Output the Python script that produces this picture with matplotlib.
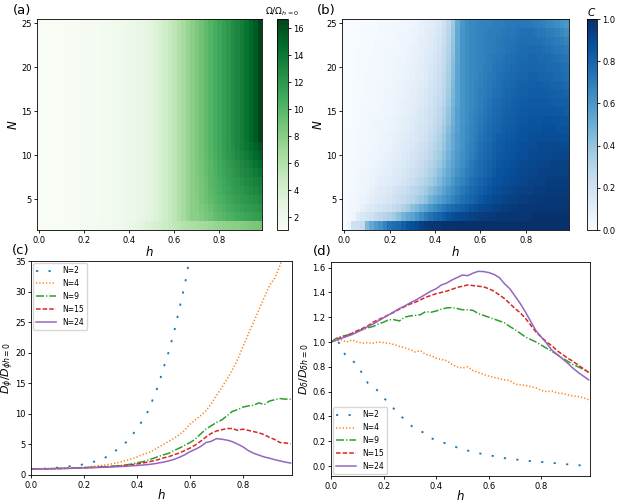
import numpy as np
import matplotlib
matplotlib.use("Agg")
import matplotlib.pyplot as plt

# ---------------- data ----------------
h = [round(0.02 * j, 2) for j in range(50)]
N_rows = list(range(2, 26))

# Panel (a): Omega / Omega_{h=0}, rows N=2..25, columns h
omega_top = [1.0, 1.0, 1.02, 1.04, 1.06, 1.1, 1.13, 1.17, 1.2, 1.25,
             1.3, 1.35, 1.4, 1.45, 1.5, 1.6, 1.7, 1.8, 1.9, 2.0,
             2.1, 2.3, 2.5, 2.7, 2.9, 3.2, 3.6, 4.0, 4.5, 5.0,
             5.5, 6.1, 6.7, 7.3, 7.9, 8.5, 9.0, 9.6, 10.1, 10.6,
             11.1, 11.6, 12.1, 12.7, 13.2, 13.7, 14.3, 14.9, 15.6, 16.7]
omega_left = omega_top[:35]
omega_N2 = [1.0, 1.0, 1.02, 1.04, 1.07, 1.1, 1.14, 1.18, 1.22, 1.27,
            1.32, 1.38, 1.44, 1.5, 1.58, 1.65, 1.75, 1.85, 1.95, 2.1,
            2.4, 2.6, 2.9, 3.2, 3.5, 3.8, 4.1, 4.4, 4.7, 5.0,
            5.3, 5.6, 5.9, 6.1, 6.3, 6.5, 6.7, 6.9, 7.1, 7.3,
            7.5, 7.6, 7.8, 7.9, 8.0, 8.2, 8.3, 8.5, 8.6, 8.8]
omega_N3 = omega_left + [7.9, 8.3, 8.7, 9.0, 9.4, 9.7, 10.0, 10.3, 10.5, 10.8, 11.0, 11.2, 11.4, 11.6, 11.8]
omega_N4 = omega_left + [8.1, 8.5, 8.9, 9.3, 9.7, 10.0, 10.4, 10.7, 11.0, 11.2, 11.5, 11.7, 11.9, 12.1, 12.3]
omega_N5 = omega_left + [8.2, 8.7, 9.1, 9.5, 9.9, 10.3, 10.6, 11.0, 11.3, 11.6, 11.9, 12.1, 12.4, 12.6, 12.8]
omega_N6 = omega_left + [8.3, 8.8, 9.2, 9.7, 10.1, 10.5, 10.9, 11.2, 11.6, 11.9, 12.2, 12.5, 12.8, 13.0, 13.3]
omega_N7 = omega_left + [8.3, 8.8, 9.3, 9.8, 10.2, 10.6, 11.0, 11.4, 11.8, 12.1, 12.5, 12.8, 13.1, 13.4, 13.7]
omega_N8 = omega_left + [8.4, 8.9, 9.4, 9.9, 10.3, 10.8, 11.2, 11.6, 12.0, 12.4, 12.8, 13.1, 13.5, 13.8, 14.2]
omega_N9 = omega_left + [8.4, 8.9, 9.4, 9.9, 10.4, 10.9, 11.3, 11.8, 12.2, 12.6, 13.0, 13.4, 13.8, 14.2, 14.7]
omega_N10 = omega_left + [8.5, 9.0, 9.5, 10.0, 10.5, 11.0, 11.5, 12.0, 12.4, 12.9, 13.3, 13.8, 14.2, 14.7, 15.3]
omega_N11 = omega_left + [8.5, 9.0, 9.6, 10.1, 10.6, 11.1, 11.6, 12.1, 12.6, 13.1, 13.6, 14.1, 14.6, 15.2, 15.9]
omega = [omega_N2, omega_N3, omega_N4, omega_N5, omega_N6, omega_N7, omega_N8,
         omega_N9, omega_N10, omega_N11] + [omega_top] * 14

# Panel (b): C, rows N=2..25
C = [
 [0.00,0.05,0.20,0.22,0.25,0.45,0.52,0.58,0.62,0.68,0.74,0.76,0.78,0.82,0.86,0.88,0.90,0.94,0.96,0.97,
  0.98,0.98,0.99,0.99,0.99,0.99,1.00,1.00,1.00,1.00,1.00,1.00,1.00,1.00,1.00,1.00,1.00,1.00,1.00,1.00,
  1.00,1.00,1.00,1.00,1.00,1.00,1.00,1.00,1.00,1.00],
 [0.00,0.02,0.05,0.12,0.15,0.18,0.20,0.25,0.28,0.30,0.33,0.36,0.42,0.48,0.52,0.55,0.60,0.65,0.70,0.74,
  0.78,0.80,0.83,0.86,0.88,0.90,0.91,0.92,0.93,0.94,0.95,0.95,0.96,0.96,0.97,0.97,0.97,0.98,0.98,0.98,
  0.98,0.98,0.99,0.99,0.99,0.99,0.99,0.99,0.99,0.99],
 [0.00,0.02,0.03,0.05,0.08,0.12,0.14,0.16,0.18,0.20,0.22,0.25,0.28,0.32,0.36,0.42,0.46,0.50,0.55,0.60,
  0.64,0.68,0.72,0.75,0.78,0.80,0.82,0.84,0.86,0.88,0.90,0.91,0.92,0.93,0.94,0.95,0.95,0.96,0.96,0.97,
  0.97,0.97,0.97,0.98,0.98,0.98,0.98,0.98,0.98,0.98],
 [0.00,0.02,0.03,0.04,0.06,0.08,0.10,0.12,0.14,0.15,0.17,0.20,0.22,0.25,0.28,0.30,0.34,0.38,0.42,0.48,
  0.52,0.56,0.60,0.64,0.68,0.72,0.75,0.78,0.80,0.82,0.85,0.87,0.88,0.90,0.91,0.92,0.93,0.94,0.94,0.95,
  0.95,0.96,0.96,0.96,0.97,0.97,0.97,0.97,0.97,0.97],
 [0.00,0.01,0.02,0.04,0.05,0.06,0.08,0.10,0.12,0.13,0.15,0.17,0.20,0.22,0.25,0.28,0.30,0.33,0.37,0.42,
  0.46,0.50,0.55,0.60,0.64,0.68,0.72,0.75,0.78,0.80,0.82,0.84,0.86,0.88,0.89,0.90,0.91,0.92,0.93,0.93,
  0.94,0.94,0.95,0.95,0.95,0.96,0.96,0.96,0.96,0.96],
 [0.00,0.01,0.02,0.03,0.04,0.05,0.07,0.08,0.10,0.11,0.12,0.14,0.16,0.18,0.20,0.23,0.26,0.29,0.32,0.36,
  0.40,0.45,0.50,0.55,0.60,0.65,0.68,0.72,0.75,0.78,0.80,0.82,0.84,0.86,0.87,0.88,0.89,0.90,0.91,0.92,
  0.92,0.93,0.93,0.94,0.94,0.95,0.95,0.95,0.95,0.95],
 [0.00,0.01,0.02,0.03,0.04,0.05,0.06,0.07,0.08,0.09,0.10,0.12,0.14,0.16,0.18,0.20,0.23,0.26,0.29,0.33,
  0.37,0.42,0.47,0.52,0.57,0.62,0.66,0.70,0.73,0.76,0.78,0.80,0.82,0.84,0.86,0.87,0.88,0.89,0.90,0.91,
  0.91,0.92,0.92,0.93,0.93,0.93,0.94,0.94,0.94,0.94],
 [0.00,0.01,0.02,0.02,0.03,0.04,0.05,0.06,0.07,0.08,0.09,0.11,0.12,0.14,0.16,0.18,0.21,0.24,0.27,0.30,
  0.34,0.39,0.44,0.50,0.55,0.60,0.64,0.68,0.72,0.75,0.77,0.79,0.81,0.83,0.85,0.86,0.87,0.88,0.89,0.90,
  0.90,0.91,0.91,0.92,0.92,0.92,0.93,0.93,0.93,0.93],
 [0.00,0.01,0.01,0.02,0.03,0.04,0.05,0.05,0.06,0.07,0.08,0.10,0.11,0.13,0.15,0.17,0.19,0.22,0.25,0.28,
  0.32,0.36,0.42,0.48,0.54,0.59,0.63,0.67,0.70,0.73,0.76,0.78,0.80,0.82,0.84,0.85,0.86,0.87,0.88,0.89,
  0.89,0.90,0.90,0.91,0.91,0.91,0.92,0.92,0.92,0.92],
 [0.00,0.01,0.01,0.02,0.03,0.03,0.04,0.05,0.06,0.06,0.07,0.09,0.10,0.12,0.13,0.15,0.17,0.20,0.23,0.26,
  0.30,0.34,0.40,0.46,0.52,0.58,0.62,0.66,0.69,0.72,0.75,0.77,0.79,0.81,0.83,0.84,0.85,0.86,0.87,0.88,
  0.88,0.89,0.89,0.90,0.90,0.90,0.91,0.91,0.90,0.90],
 [0.00,0.01,0.01,0.02,0.02,0.03,0.04,0.04,0.05,0.06,0.07,0.08,0.09,0.11,0.12,0.14,0.16,0.18,0.21,0.24,
  0.28,0.32,0.38,0.45,0.52,0.58,0.62,0.65,0.68,0.71,0.74,0.76,0.78,0.80,0.82,0.83,0.84,0.85,0.86,0.87,
  0.87,0.88,0.88,0.89,0.89,0.89,0.89,0.89,0.88,0.88],
 [0.00,0.00,0.01,0.02,0.02,0.03,0.03,0.04,0.05,0.05,0.06,0.07,0.08,0.10,0.11,0.13,0.15,0.17,0.19,0.22,
  0.26,0.30,0.36,0.43,0.50,0.57,0.62,0.65,0.68,0.70,0.73,0.75,0.77,0.79,0.80,0.82,0.83,0.84,0.85,0.86,
  0.86,0.87,0.87,0.87,0.88,0.88,0.88,0.87,0.87,0.86],
 [0.00,0.00,0.01,0.01,0.02,0.02,0.03,0.04,0.04,0.05,0.06,0.07,0.08,0.09,0.10,0.12,0.14,0.16,0.18,0.21,
  0.24,0.28,0.34,0.41,0.49,0.56,0.61,0.64,0.67,0.70,0.72,0.74,0.76,0.78,0.79,0.81,0.82,0.83,0.84,0.85,
  0.85,0.86,0.86,0.86,0.87,0.87,0.86,0.86,0.85,0.85],
 [0.00,0.00,0.01,0.01,0.02,0.02,0.03,0.03,0.04,0.05,0.05,0.06,0.07,0.08,0.10,0.11,0.13,0.15,0.17,0.20,
  0.23,0.27,0.32,0.40,0.48,0.56,0.61,0.64,0.67,0.69,0.71,0.73,0.75,0.77,0.78,0.80,0.81,0.82,0.83,0.84,
  0.84,0.85,0.85,0.85,0.85,0.85,0.85,0.84,0.84,0.83],
 [0.00,0.00,0.01,0.01,0.02,0.02,0.02,0.03,0.04,0.04,0.05,0.06,0.07,0.08,0.09,0.10,0.12,0.14,0.16,0.19,
  0.22,0.25,0.30,0.38,0.47,0.55,0.61,0.64,0.66,0.68,0.70,0.72,0.74,0.76,0.77,0.79,0.80,0.81,0.82,0.83,
  0.83,0.84,0.84,0.84,0.84,0.84,0.83,0.83,0.82,0.82],
 [0.00,0.00,0.01,0.01,0.01,0.02,0.02,0.03,0.03,0.04,0.05,0.05,0.06,0.07,0.08,0.10,0.11,0.13,0.15,0.18,
  0.21,0.24,0.29,0.36,0.46,0.55,0.61,0.64,0.66,0.68,0.70,0.71,0.73,0.75,0.76,0.78,0.79,0.80,0.81,0.82,
  0.82,0.83,0.83,0.83,0.83,0.82,0.82,0.81,0.81,0.80],
 [0.00,0.00,0.01,0.01,0.01,0.02,0.02,0.03,0.03,0.04,0.04,0.05,0.06,0.07,0.08,0.09,0.10,0.12,0.14,0.17,
  0.20,0.23,0.28,0.35,0.45,0.55,0.61,0.64,0.66,0.68,0.69,0.71,0.72,0.74,0.75,0.77,0.78,0.79,0.80,0.81,
  0.81,0.82,0.82,0.82,0.81,0.81,0.80,0.80,0.79,0.78],
 [0.00,0.00,0.00,0.01,0.01,0.02,0.02,0.02,0.03,0.03,0.04,0.05,0.05,0.06,0.07,0.08,0.10,0.11,0.13,0.16,
  0.19,0.22,0.27,0.34,0.44,0.54,0.61,0.64,0.66,0.67,0.69,0.70,0.72,0.73,0.75,0.76,0.77,0.78,0.79,0.80,
  0.80,0.81,0.81,0.80,0.80,0.80,0.79,0.78,0.77,0.76],
 [0.00,0.00,0.00,0.01,0.01,0.01,0.02,0.02,0.03,0.03,0.04,0.04,0.05,0.06,0.07,0.08,0.09,0.11,0.13,0.15,
  0.18,0.21,0.26,0.33,0.43,0.54,0.61,0.64,0.66,0.67,0.68,0.70,0.71,0.73,0.74,0.75,0.76,0.77,0.78,0.79,
  0.79,0.80,0.80,0.79,0.79,0.78,0.78,0.77,0.76,0.75],
 [0.00,0.00,0.00,0.01,0.01,0.01,0.02,0.02,0.02,0.03,0.03,0.04,0.05,0.05,0.06,0.07,0.08,0.10,0.12,0.14,
  0.17,0.20,0.25,0.32,0.42,0.53,0.61,0.64,0.66,0.67,0.68,0.69,0.71,0.72,0.73,0.74,0.75,0.76,0.77,0.78,
  0.78,0.79,0.79,0.78,0.78,0.77,0.76,0.75,0.74,0.73],
 [0.00,0.00,0.00,0.01,0.01,0.01,0.01,0.02,0.02,0.03,0.03,0.04,0.04,0.05,0.06,0.07,0.08,0.09,0.11,0.13,
  0.16,0.19,0.24,0.31,0.41,0.53,0.61,0.64,0.66,0.67,0.68,0.69,0.70,0.71,0.72,0.73,0.74,0.75,0.76,0.77,
  0.77,0.78,0.77,0.77,0.76,0.75,0.74,0.73,0.72,0.71],
 [0.00,0.00,0.00,0.00,0.01,0.01,0.01,0.02,0.02,0.02,0.03,0.03,0.04,0.05,0.05,0.06,0.07,0.09,0.10,0.12,
  0.15,0.18,0.23,0.30,0.40,0.52,0.61,0.64,0.66,0.67,0.68,0.69,0.70,0.71,0.72,0.73,0.74,0.74,0.75,0.76,
  0.76,0.76,0.76,0.75,0.74,0.73,0.72,0.71,0.70,0.68],
 [0.00,0.00,0.00,0.00,0.01,0.01,0.01,0.01,0.02,0.02,0.03,0.03,0.04,0.04,0.05,0.06,0.07,0.08,0.10,0.12,
  0.14,0.17,0.22,0.29,0.39,0.52,0.61,0.64,0.66,0.67,0.68,0.69,0.70,0.70,0.71,0.72,0.73,0.73,0.74,0.75,
  0.75,0.75,0.74,0.73,0.72,0.71,0.70,0.68,0.66,0.64],
 [0.00,0.00,0.00,0.00,0.01,0.01,0.01,0.01,0.02,0.02,0.02,0.03,0.03,0.04,0.05,0.05,0.06,0.08,0.09,0.11,
  0.13,0.16,0.21,0.28,0.38,0.51,0.60,0.64,0.66,0.67,0.68,0.69,0.69,0.70,0.71,0.71,0.72,0.72,0.73,0.73,
  0.73,0.72,0.71,0.70,0.69,0.67,0.66,0.64,0.62,0.60],
]

# Panel (c): D_phi / D_phi(h=0)
c_N2 = [1.0, 1.0, 1.02, 1.05, 1.1, 1.2, 1.3, 1.4, 1.47, 1.6,
        1.75, 1.95, 2.2, 2.45, 2.85, 3.35, 4.0, 4.65, 5.4, 6.4,
        7.6, 8.85, 10.3, 12.4, 14.6, 17.5, 20.2, 23.4, 27.2, 31.0,
        35.8, 40.5]
c_N4 = [1.0, 1.0, 1.01, 1.02, 1.04, 1.06, 1.09, 1.12, 1.16, 1.2,
        1.26, 1.33, 1.42, 1.52, 1.64, 1.78, 1.95, 2.15, 2.4, 2.65,
        2.95, 3.3, 3.6, 4.0, 4.5, 5.0, 5.5, 6.0, 6.6, 7.3,
        8.3, 9.0, 9.7, 10.5, 11.6, 13.0, 14.3, 15.7, 17.2, 18.9,
        21.0, 23.0, 25.0, 27.0, 29.0, 31.0, 32.2, 34.3, 37.0, 40.0]
c_N9 = [1.0, 1.0, 1.01, 1.02, 1.04, 1.06, 1.08, 1.1, 1.13, 1.16,
        1.2, 1.24, 1.28, 1.32, 1.37, 1.42, 1.48, 1.55, 1.65, 1.8,
        2.0, 2.15, 2.4, 2.7, 3.0, 3.3, 3.55, 4.0, 4.4, 4.85,
        5.3, 5.85, 6.7, 7.5, 8.05, 8.6, 9.0, 9.7, 10.4, 10.7,
        11.1, 11.3, 11.4, 11.8, 11.5, 12.1, 12.3, 12.5, 12.4, 12.4]
c_N15 = [1.0, 1.0, 1.01, 1.02, 1.03, 1.05, 1.07, 1.09, 1.12, 1.15,
         1.18, 1.22, 1.26, 1.3, 1.34, 1.38, 1.43, 1.5, 1.58, 1.68,
         1.8, 1.95, 2.1, 2.3, 2.5, 2.8, 3.0, 3.3, 3.6, 4.0,
         4.4, 4.9, 5.5, 6.2, 6.8, 7.2, 7.4, 7.6, 7.6, 7.3,
         7.5, 7.3, 7.1, 6.9, 6.6, 6.15, 5.8, 5.3, 5.25, 5.1]
c_N24 = [1.0, 1.0, 1.01, 1.02, 1.03, 1.04, 1.06, 1.08, 1.1, 1.12,
         1.15, 1.18, 1.21, 1.24, 1.27, 1.3, 1.34, 1.38, 1.43, 1.5,
         1.55, 1.62, 1.7, 1.8, 1.95, 2.1, 2.3, 2.55, 2.9, 3.3,
         3.8, 4.2, 4.65, 5.3, 5.5, 5.95, 5.85, 5.7, 5.45, 5.05,
         4.6, 4.0, 3.55, 3.25, 2.95, 2.75, 2.5, 2.3, 2.1, 1.95]

# Panel (d): D_delta / D_delta(h=0)
d_N2 = [1.0, 1.04, 0.95, 0.875, 0.85, 0.82, 0.74, 0.67, 0.65, 0.6,
        0.55, 0.51, 0.46, 0.415, 0.375, 0.335, 0.3, 0.28, 0.265, 0.225,
        0.21, 0.195, 0.18, 0.165, 0.15, 0.135, 0.125, 0.115, 0.105, 0.095,
        0.088, 0.08, 0.072, 0.064, 0.058, 0.054, 0.048, 0.044, 0.04, 0.036,
        0.033, 0.029, 0.026, 0.022, 0.018, 0.014, 0.01, 0.007, 0.004, 0.002]
d_N4 = [1.0, 1.01, 1.017, 1.0, 1.017, 1.0, 0.99, 0.995, 0.99, 1.0,
        0.995, 0.99, 0.98, 0.965, 0.955, 0.94, 0.92, 0.93, 0.9, 0.89,
        0.87, 0.86, 0.85, 0.82, 0.8, 0.79, 0.8, 0.77, 0.755, 0.74,
        0.725, 0.715, 0.705, 0.695, 0.69, 0.66, 0.655, 0.65, 0.64, 0.63,
        0.61, 0.6, 0.605, 0.59, 0.585, 0.575, 0.565, 0.56, 0.55, 0.535]
d_N9 = [1.0, 1.03, 1.045, 1.055, 1.07, 1.09, 1.1, 1.115, 1.125, 1.145,
        1.16, 1.18, 1.18, 1.17, 1.2, 1.21, 1.215, 1.22, 1.245, 1.24,
        1.25, 1.265, 1.275, 1.278, 1.27, 1.26, 1.26, 1.255, 1.23, 1.215,
        1.2, 1.185, 1.17, 1.155, 1.125, 1.1, 1.07, 1.04, 1.02, 1.0,
        0.975, 0.95, 0.925, 0.9, 0.87, 0.845, 0.82, 0.8, 0.78, 0.755]
d_N15 = [1.0, 1.02, 1.04, 1.05, 1.07, 1.09, 1.11, 1.13, 1.16, 1.18,
         1.2, 1.22, 1.24, 1.265, 1.285, 1.305, 1.32, 1.34, 1.36, 1.375,
         1.39, 1.4, 1.41, 1.425, 1.44, 1.45, 1.46, 1.455, 1.45, 1.445,
         1.43, 1.41, 1.38, 1.35, 1.31, 1.27, 1.235, 1.19, 1.135, 1.08,
         1.04, 1.0, 0.97, 0.93, 0.9, 0.87, 0.845, 0.815, 0.785, 0.755]
d_N24 = [1.0, 1.015, 1.03, 1.045, 1.06, 1.08, 1.1, 1.125, 1.145, 1.17,
         1.195, 1.22, 1.245, 1.27, 1.29, 1.315, 1.335, 1.36, 1.385, 1.41,
         1.43, 1.46, 1.475, 1.5, 1.52, 1.54, 1.535, 1.555, 1.57, 1.568,
         1.56, 1.545, 1.52, 1.47, 1.43, 1.37, 1.31, 1.24, 1.165, 1.09,
         1.04, 0.99, 0.935, 0.9, 0.865, 0.83, 0.79, 0.755, 0.725, 0.695]

series_labels = ["N=2", "N=4", "N=9", "N=15", "N=24"]
c_series = [c_N2, c_N4, c_N9, c_N15, c_N24]
d_series = [d_N2, d_N4, d_N9, d_N15, d_N24]

# ---------------- styles ----------------
plt.rcParams["lines.scale_dashes"] = False
plt.rcParams["axes.linewidth"] = 0.6
plt.rcParams["xtick.major.width"] = 0.6
plt.rcParams["ytick.major.width"] = 0.6
colors = ["#1f77b4", "#ff7f0e", "#2ca02c", "#d62728", "#9467bd"]
styles = [(0, (1.6, 7.4)), (0, (0.9, 1.5)), (0, (5.8, 1.45, 0.9, 1.45)),
          (0, (3.3, 1.45)), "-"]
widths = [1.3, 1.1, 1.1, 1.1, 1.1]
TICK = 6
LAB = 8.5

fig = plt.figure(figsize=(6.19, 5.03), dpi=100)

ax_a = fig.add_axes([0.0598, 0.5427, 0.3635, 0.4195])
cax_a = fig.add_axes([0.4475, 0.5427, 0.0178, 0.4195])
ax_b = fig.add_axes([0.5525, 0.5427, 0.3667, 0.4195])
cax_b = fig.add_axes([0.9483, 0.5427, 0.0162, 0.4195])
ax_c = fig.add_axes([0.0501, 0.0557, 0.4216, 0.4254])
ax_d = fig.add_axes([0.5347, 0.0537, 0.4184, 0.4254])

h_arr = np.array(h)
dh = h_arr[1] - h_arr[0]
h_edges = np.append(h_arr - dh / 2, h_arr[-1] + dh / 2)
N_arr = np.array(N_rows, dtype=float)
N_edges = np.append(N_arr - 0.5, N_arr[-1] + 0.5)

# (a)
m_a = ax_a.pcolormesh(h_edges, N_edges, np.array(omega), cmap="Greens",
                      vmin=1.05, vmax=16.7, shading="flat")
cb_a = fig.colorbar(m_a, cax=cax_a)
cb_a.set_ticks([2, 4, 6, 8, 10, 12, 14, 16])
cb_a.ax.tick_params(labelsize=TICK, length=2, pad=2)
cb_a.outline.set_linewidth(0.6)
cax_a.set_title(r"$\Omega/\Omega_{h=0}$", fontsize=6.5, pad=3)

# (b)
m_b = ax_b.pcolormesh(h_edges, N_edges, np.array(C), cmap="Blues",
                      vmin=0, vmax=1, shading="flat")
cb_b = fig.colorbar(m_b, cax=cax_b)
cb_b.set_ticks([0.0, 0.2, 0.4, 0.6, 0.8, 1.0])
cb_b.ax.tick_params(labelsize=TICK, length=2, pad=2)
cb_b.outline.set_linewidth(0.6)
cax_b.set_title(r"$C$", fontsize=7.5, pad=2)

for ax in (ax_a, ax_b):
    ax.set_xticks([0.0, 0.2, 0.4, 0.6, 0.8])
    ax.set_yticks([5, 10, 15, 20, 25])
    ax.tick_params(labelsize=TICK, length=2, pad=2)
    ax.set_xlabel(r"$h$", fontsize=LAB, labelpad=0)
    ax.set_ylabel(r"$N$", fontsize=LAB, labelpad=1)

# (c)
for y, lab, col, ls, w in zip(c_series, series_labels, colors, styles, widths):
    ax_c.plot(h_arr[:len(y)], y, color=col, linestyle=ls, lw=w, label=lab)
ax_c.set_xlim(0, 0.985)
ax_c.set_ylim(0, 35)
ax_c.set_xticks([0.0, 0.2, 0.4, 0.6, 0.8])
ax_c.set_yticks([0, 5, 10, 15, 20, 25, 30, 35])
ax_c.tick_params(labelsize=TICK, length=2, pad=2)
ax_c.set_xlabel(r"$h$", fontsize=LAB, labelpad=-1)
ax_c.set_ylabel(r"$D_{\phi}/D_{\phi h=0}$", fontsize=8, labelpad=-0.5)
ax_c.legend(loc="upper left", fontsize=5.5, handlelength=2.6, borderaxespad=0.3)

# (d)
for y, lab, col, ls, w in zip(d_series, series_labels, colors, styles, widths):
    ax_d.plot(h_arr[:len(y)], y, color=col, linestyle=ls, lw=w, label=lab)
ax_d.set_xlim(0, 0.985)
ax_d.set_ylim(-0.08, 1.645)
ax_d.set_xticks([0.0, 0.2, 0.4, 0.6, 0.8])
ax_d.set_yticks([0.0, 0.2, 0.4, 0.6, 0.8, 1.0, 1.2, 1.4, 1.6])
ax_d.tick_params(labelsize=TICK, length=2, pad=2)
ax_d.set_xlabel(r"$h$", fontsize=LAB, labelpad=-1)
ax_d.set_ylabel(r"$D_{\delta}/D_{\delta h=0}$", fontsize=8, labelpad=1)
ax_d.legend(loc="lower left", fontsize=5.5, handlelength=2.6, borderaxespad=0.3)

# panel labels
fig.text(0.021, 0.992, "(a)", fontsize=9.5, va="top", ha="left")
fig.text(0.512, 0.992, "(b)", fontsize=9.5, va="top", ha="left")
fig.text(0.019, 0.515, "(c)", fontsize=9.5, va="top", ha="left")
fig.text(0.506, 0.513, "(d)", fontsize=9.5, va="top", ha="left")

fig.savefig("out.png", dpi=100)
